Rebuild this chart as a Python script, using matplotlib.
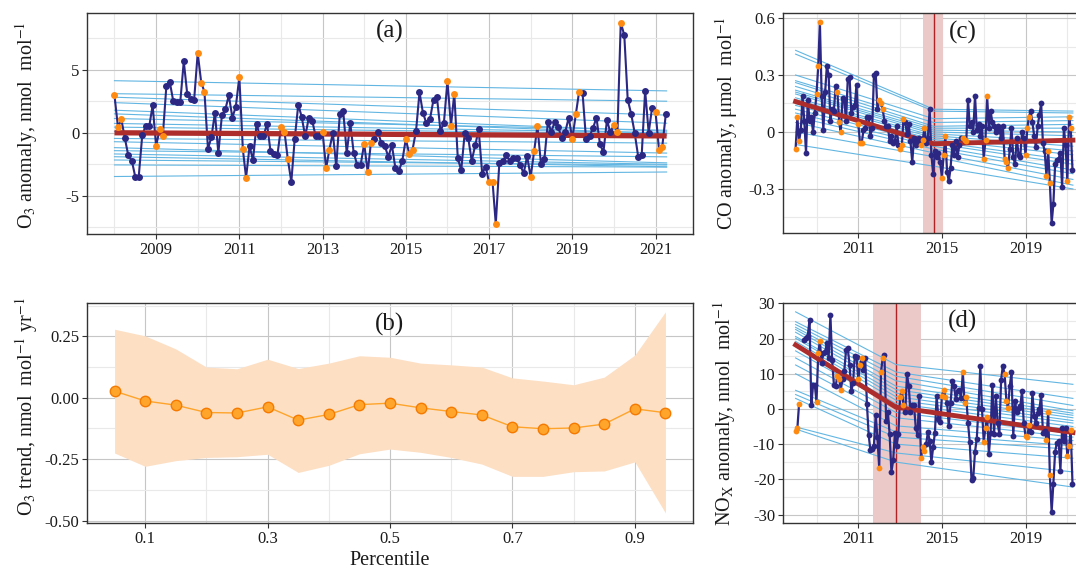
import numpy as np
import pandas as pd
import matplotlib
matplotlib.use("Agg")
import matplotlib.pyplot as plt
from matplotlib.ticker import MultipleLocator, FuncFormatter

plt.rcParams['font.family'] = ['Liberation Serif', 'DejaVu Serif']
plt.rcParams['mathtext.fontset'] = 'stix'
plt.rcParams['axes.unicode_minus'] = False

# ---------------- data ----------------
dates = pd.date_range('2008-01-01', periods=160, freq='MS')

o3_anom = [2.97, 0.42, 1.08, -0.42, -1.79, -2.21, -3.47, -3.47, -0.18, 0.55, 0.50, 2.18,
           -1.05, 0.26, -0.26, 3.68, 4.03, 2.50, 2.45, 2.42, 5.66, 3.10, 2.66, 2.63,
           6.32, 3.97, 3.26, -1.26, -0.37, 1.58, -1.63, 1.37, 1.87, 2.97, 1.21, 2.05,
           4.42, -1.32, -3.55, -1.08, -2.18, 0.68, -0.26, -0.26, 0.71, -1.42, -1.68, -1.79,
           0.42, 0.08, -2.08, -3.89, -0.47, 2.24, 1.26, -0.29, 1.18, 0.97, -0.29, -0.24,
           0.05, -2.82, -1.37, 0.00, -2.66, 1.45, 1.76, -1.61, 0.76, -1.58, -2.55, -2.55,
           -0.87, -3.13, -0.79, -0.50, 0.08, -0.82, -1.05, -1.92, -0.97, -2.76, -3.03, -2.24,
           -0.50, -1.71, -1.34, 0.16, 3.21, 1.55, 0.76, 1.08, 2.63, 2.84, 0.16, 0.76,
           4.10, 0.55, 3.10, -2.03, -2.97, 0.00, -0.39, -2.21, -1.00, 0.26, -3.24, -2.68,
           -3.92, -3.92, -7.24, -2.42, -2.24, -1.79, -2.21, -2.03, -2.03, -2.58, -3.21, -1.87,
           -3.50, -1.42, 0.53, -2.45, -2.10, 0.84, 0.08, 0.89, 0.42, -0.45, 0.08, 1.21,
           -0.47, 1.45, 3.21, 3.16, -0.47, -0.26, 0.34, 1.21, -0.92, -1.55, 1.00, 0.03,
           0.63, 0.05, 8.74, 7.74, 2.63, 1.47, 0.00, -1.89, -1.74, 3.34, 0.00, 2.00,
           1.63, -1.39, -1.10, 1.47]

co_anom = [-0.09, 0.08, -0.05, 0.01, 0.19, 0.06, -0.11, 0.17, 0.06, 0.08, 0.00, 0.10,
           0.20, 0.35, 0.58, 0.19, 0.01, 0.21, 0.35, 0.30, 0.06, 0.12, 0.11, 0.24,
           0.21, 0.05, 0.00, 0.18, 0.17, 0.06, 0.28, 0.29, 0.10, 0.13, 0.14, 0.25,
           0.04, -0.06, -0.06, 0.01, 0.02, 0.08, 0.08, -0.02, 0.02, 0.30, 0.31, 0.12,
           0.17, 0.15, 0.12, 0.06, 0.03, 0.03, -0.05, -0.02, -0.06, -0.05, 0.03, -0.07,
           -0.09, -0.07, 0.07, 0.05, -0.01, 0.04, -0.05, -0.16, -0.03, -0.07, -0.05, -0.03,
           -0.07, -0.04, 0.02, -0.06, -0.03, 0.12, -0.12, -0.22, -0.10, -0.13, -0.11, -0.16,
           -0.24, -0.12, -0.02, -0.21, -0.26, -0.19, -0.07, -0.12, -0.05, -0.13, -0.07, -0.03,
           -0.03, -0.04, -0.05, 0.17, 0.03, 0.05, 0.00, 0.19, 0.01, 0.04, -0.02, 0.03,
           -0.14, -0.04, 0.19, 0.02, 0.11, 0.05, 0.03, 0.00, 0.03, 0.01, -0.03, 0.03,
           -0.14, -0.16, -0.19, -0.09, 0.02, -0.13, -0.17, -0.03, -0.12, -0.13, 0.00, -0.03,
           -0.12, 0.02, 0.08, 0.11, 0.05, -0.02, -0.08, 0.03, 0.09, 0.15, -0.06, -0.10,
           -0.23, -0.10, -0.27, -0.48, -0.38, -0.17, -0.15, -0.14, -0.11, -0.29, 0.02, -0.07,
           -0.26, 0.08, 0.02, -0.20]

nox_anom = [-6.2, -5.5, 1.3, np.nan, np.nan, 19.6, 20.3, 20.8, 25.4, 1.0, 6.7, 6.9,
            2.0, 16.0, 19.2, 13.0, 15.9, 16.3, 18.7, 14.5, 26.7, 13.8, 6.9, 6.5,
            9.3, 8.5, 5.5, 8.4, 10.7, 16.8, 17.3, 12.6, 5.1, 7.4, 15.1, 14.7,
            8.5, 12.6, 14.5, 11.2, 14.5, 1.3, -7.4, -11.8, -11.4, -10.4, -1.8, -8.1,
            -16.7, 10.4, 14.4, 15.4, -3.4, -1.0, -7.2, -17.9, -14.6, -6.9, -10.4, -7.0,
            3.5, 5.1, 1.0, -1.0, 9.8, 6.5, -1.0, 1.0, 1.0, -5.3, -7.4, 3.8,
            -13.9, -10.7, -12.0, -10.0, -6.5, -9.0, -15.1, -10.9, -6.7, 3.7, -2.9, -3.8,
            3.7, 5.5, 3.5, 1.8, -4.8, 1.8, 7.9, 6.5, 2.7, 5.0, 5.5, 3.0,
            10.4, 1.8, 3.3, -4.0, -9.5, -20.2, -19.7, -12.2, -8.4, 0.4, 12.1, 0.0,
            -9.3, -5.3, -2.3, -12.8, -6.7, 6.9, -7.2, 3.7, -4.0, -7.1, 8.3, 12.3,
            9.8, 2.3, 0.4, 6.5, 10.4, -7.6, 2.2, -1.0, 0.4, 0.7, 5.1, -4.0,
            -7.6, -8.1, -4.6, -6.5, 4.6, -2.0, -4.0, -1.2, 0.0, 4.1, -6.7, -6.2,
            -8.7, -0.75, -18.9, -29.2, -21.2, -12.1, -9.7, -9.2, -17.5, -5.5, -9.0, -5.5,
            -13.4, -10.4, -6.0, -21.2]

percentiles = [0.05, 0.10, 0.15, 0.20, 0.25, 0.30, 0.35, 0.40, 0.45, 0.50,
               0.55, 0.60, 0.65, 0.70, 0.75, 0.80, 0.85, 0.90, 0.95]
o3_trend = [0.027, -0.013, -0.030, -0.060, -0.062, -0.037, -0.091, -0.068, -0.028, -0.022,
            -0.041, -0.056, -0.070, -0.118, -0.126, -0.123, -0.107, -0.045, -0.061]
o3_trend_lo = [-0.225, -0.279, -0.256, -0.243, -0.240, -0.230, -0.304, -0.275, -0.228, -0.209,
               -0.222, -0.243, -0.270, -0.320, -0.320, -0.301, -0.298, -0.261, -0.469]
o3_trend_hi = [0.279, 0.252, 0.199, 0.125, 0.118, 0.157, 0.119, 0.141, 0.171, 0.165,
               0.141, 0.134, 0.125, 0.081, 0.068, 0.053, 0.084, 0.174, 0.350]

# O3 quantile-regression lines: value at series start, slope = o3_trend
o3_q_start = [-3.47, -2.55, -2.16, -1.90, -1.68, -1.42, -1.18, -0.71, -0.45, 0.10,
              0.45, 0.74, 1.13, 1.50, 1.79, 2.39, 2.82, 3.10, 4.13]
o3_fit = [0.0, -0.25]   # mean trend line start / end

# CO piecewise quantile lines (start, breakpoint, end)
co_break = 2014.6
co_shade = [2014.08, 2015.07]
co_q_start = [-0.066, 0.00, 0.05, 0.08, 0.10, 0.12, 0.14, 0.15, 0.17, 0.18,
              0.20, 0.21, 0.22, 0.24, 0.26, 0.27, 0.30, 0.41, 0.43]
co_q_break = [-0.18, -0.13, -0.11, -0.09, -0.075, -0.06, -0.05, -0.04, -0.03, -0.02,
              -0.01, 0.00, 0.01, 0.02, 0.03, 0.05, 0.07, 0.11, 0.12]
co_q_end = [-0.30, -0.28, -0.25, -0.22, -0.20, -0.17, -0.15, -0.12, -0.10, -0.075,
            -0.05, -0.02, 0.00, 0.02, 0.04, 0.06, 0.08, 0.10, 0.11]
co_fit = [0.16, -0.062, -0.043]

nox_break = 2012.8
nox_shade = [2011.69, 2014.0]
nox_q_start = [-5.7, -5.1, 3.0, 4.1, 5.3, 10.0, 12.5, 14.5, 16.5, 18.0,
               19.2, 20.1, 20.6, 21.8, 22.6, 23.2, 24.0, 24.8, 27.6]
nox_q_break = [-15.1, -12.5, -10.0, -8.0, -6.5, -4.8, -2.5, -1.0, 0.5, 1.5,
               2.5, 3.5, 4.5, 5.5, 6.5, 8.0, 9.3, 10.5, 12.6]
nox_q_end = [-22.2, -17.9, -14.0, -11.5, -10.5, -9.0, -8.0, -7.0, -6.0, -5.0,
             -4.0, -3.3, -2.5, -1.8, -1.2, -0.5, 1.0, 3.0, 7.0]
nox_fit = [18.2, 0.5, -6.7]

# ---------------- helpers ----------------
t = (dates.year + (dates.dayofyear - 1) / 365.25).values
winter = np.isin(dates.month, [1, 2, 3])
t0, t1 = t[0], t[-1] + 0.02

NAVY = '#2B2783'
ORANGE = '#FF8A12'
BLUE = '#62B6E2'
RED = '#AD2D2D'
MAJ = '#C6C6C6'
MINC = '#E9E9E9'
TXT = '#1a1a1a'

W, H = 1076, 568
fig = plt.figure(figsize=(W / 100, H / 100), dpi=100)


def box(l, top, r, b):
    return [l / W, 1 - b / H, (r - l) / W, (b - top) / H]


def style(ax):
    ax.grid(which='major', color=MAJ, lw=0.8, zorder=0)
    ax.grid(which='minor', color=MINC, lw=0.8, zorder=0)
    ax.set_axisbelow(True)
    for s in ax.spines.values():
        s.set_color('#333333')
        s.set_linewidth(1.0)
    ax.tick_params(which='major', direction='out', length=3.5, width=0.8,
                   color='#333333', labelsize=12, labelcolor=TXT, pad=2)
    ax.tick_params(which='minor', length=0)


def ylab(ax, text, x, y=0.5):
    ax.set_ylabel(text, fontsize=14.5, color=TXT)
    ax.yaxis.label.set_va('center')
    ax.yaxis.set_label_coords(x, y)


def series(ax, vals, ms, lw):
    v = np.array(vals, dtype=float)
    ax.plot(t, v, color=NAVY, lw=lw, zorder=3)
    ax.plot(t[~winter], v[~winter], 'o', color=NAVY, ms=ms, mec='none', zorder=5)
    ax.plot(t[winter], v[winter], 'o', color=ORANGE, ms=ms, mec='none', zorder=6)


# ---------------- (a) ----------------
ax = fig.add_axes(box(87, 13, 693, 234))
for s0, sl in zip(o3_q_start, o3_trend):
    ax.plot([t0, t1], [s0, s0 + sl * (t1 - t0)], color=BLUE, lw=0.8, zorder=2)
series(ax, o3_anom, 5.0, 1.5)
ax.plot([t0, t1], o3_fit, color=RED, lw=3.8, zorder=4, solid_capstyle='butt')
ax.set_xlim(2007.34, 2021.9)
ax.set_ylim(-8.03, 9.5)
ax.xaxis.set_major_locator(MultipleLocator(2, offset=1))
ax.xaxis.set_minor_locator(MultipleLocator(1))
ax.yaxis.set_major_locator(MultipleLocator(5))
ax.yaxis.set_minor_locator(MultipleLocator(2.5))
ax.xaxis.set_major_formatter(FuncFormatter(lambda v, p: f'{v:.0f}'))
ax.yaxis.set_major_formatter(FuncFormatter(lambda v, p: f'{v:.0f}'))
style(ax)
ylab(ax, r'O$_3$ anomaly, nmol  mol$^{-1}$', -0.099, 0.49)
ax.text(0.5, 0.915, '(a)', transform=ax.transAxes, ha='center', va='center',
        fontsize=18, color=TXT)

# ---------------- (b) ----------------
ax = fig.add_axes(box(87, 302.7, 693, 523.3))
ax.fill_between(percentiles, o3_trend_lo, o3_trend_hi, color='#FDDFC4', lw=0, zorder=1)
ax.plot(percentiles, o3_trend, '-o', color='#FFA42A', lw=1.0, ms=7.5,
        mfc='#FFA52C', mec='#F57A00', mew=1.0, zorder=3)
ax.set_xlim(0.005, 0.995)
ax.set_ylim(-0.511, 0.387)
ax.xaxis.set_major_locator(MultipleLocator(0.2, offset=0.1))
ax.xaxis.set_minor_locator(MultipleLocator(0.1))
ax.yaxis.set_major_locator(MultipleLocator(0.25))
ax.yaxis.set_minor_locator(MultipleLocator(0.125))
ax.xaxis.set_major_formatter(FuncFormatter(lambda v, p: f'{v:.1f}'))
ax.yaxis.set_major_formatter(FuncFormatter(lambda v, p: f'{v:.2f}'))
style(ax)
ylab(ax, r'O$_3$ trend, nmol  mol$^{-1}$ yr$^{-1}$', -0.099, 0.53)
ax.set_xlabel('Percentile', fontsize=14.5, color=TXT, labelpad=3)
ax.text(0.5, 0.9, '(b)', transform=ax.transAxes, ha='center', va='center',
        fontsize=18, color=TXT)


# ---------------- (c) & (d) ----------------
def piecewise_panel(rect, vals, brk, shade, qs, qb, qe, fit, ylim, ymaj, ymin, fmt,
                    ylabel, lab, ylab_x):
    ax = fig.add_axes(rect)
    ax.axvspan(shade[0], shade[1], color='#EBC9C9', lw=0, zorder=1)
    ax.axvline(brk, color='#B22222', lw=1.0, zorder=1.5)
    for a, b, c in zip(qs, qb, qe):
        ax.plot([t0, brk, t1], [a, b, c], color=BLUE, lw=0.8, zorder=2)
    series(ax, vals, 4.2, 1.6)
    ax.plot([t0, brk, t1], fit, color=RED, lw=3.5, zorder=4, solid_joinstyle='round')
    ax.set_xlim(2007.383, 2021.95)
    ax.set_ylim(*ylim)
    ax.xaxis.set_major_locator(MultipleLocator(4, offset=3))
    ax.xaxis.set_minor_locator(MultipleLocator(2, offset=1))
    ax.yaxis.set_major_locator(MultipleLocator(ymaj))
    ax.yaxis.set_minor_locator(MultipleLocator(ymin))
    ax.xaxis.set_major_formatter(FuncFormatter(lambda v, p: f'{v:.0f}'))
    ax.yaxis.set_major_formatter(FuncFormatter(fmt))
    style(ax)
    ylab(ax, ylabel, ylab_x)
    ax.text(2016.0, ylim[1] - (ylim[1] - ylim[0]) * 0.085, lab, ha='center', va='center',
            fontsize=18, color=TXT)
    return ax


piecewise_panel(box(782.7, 13.3, 1087.2, 233), co_anom, co_break, co_shade,
                co_q_start, co_q_break, co_q_end, co_fit, (-0.532, 0.625), 0.3, 0.15,
                lambda v, p: '0' if abs(v) < 1e-9 else f'{v:.1f}',
                r'CO anomaly, μmol  mol$^{-1}$', '(c)', -0.183)

piecewise_panel(box(782.7, 302.7, 1087.2, 523.3), nox_anom, nox_break, nox_shade,
                nox_q_start, nox_q_break, nox_q_end, nox_fit, (-32.5, 30.2), 10, 5,
                lambda v, p: f'{v:.0f}',
                r'NO$_\mathrm{X}$ anomaly, nmol  mol$^{-1}$', '(d)', -0.19)

fig.savefig('out.png', dpi=100)
